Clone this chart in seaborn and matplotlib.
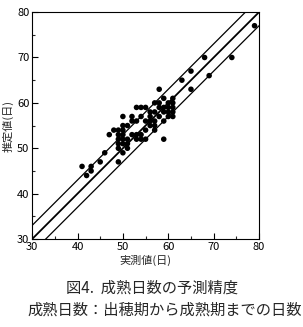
import matplotlib
matplotlib.use("Agg")
import matplotlib.pyplot as plt
import seaborn as sns
import pandas as pd
from matplotlib.ticker import MultipleLocator

# observed (x) and estimated (y) days
observed = [41, 42, 43, 43, 45, 46, 47, 48,
            49, 49, 49, 49, 49, 49,
            50, 50, 50, 50, 50, 50, 50,
            51, 51, 51, 51,
            52, 52, 52,
            53, 53, 53, 53,
            54, 54, 54, 54,
            55, 55, 55, 55,
            56, 56, 56, 56,
            57, 57, 57, 57, 57,
            58, 58, 58, 58,
            59, 59, 59, 59, 59,
            60, 60, 60, 60,
            61, 61, 61, 61, 61,
            63, 65, 65, 68, 69, 74, 79]
estimated = [46, 44, 46, 45, 47, 49, 53, 54,
             54, 53, 52, 51, 50, 47,
             57, 55, 54, 53, 52, 51, 49,
             55, 52, 51, 50,
             57, 56, 53,
             59, 56, 53, 52,
             59, 57, 53, 52,
             59, 56, 54, 52,
             58, 57, 56, 55,
             60, 58, 56, 55, 54,
             63, 60, 59, 57,
             61, 59, 58, 56, 52,
             60, 59, 58, 57,
             61, 60, 59, 58, 57,
             65, 67, 63, 70, 66, 70, 77]

line_x = [30, 80]
line_offsets = [0, 3, -3]
line_widths = [1.3, 0.9, 0.9]

x_ticks = [30, 40, 50, 60, 70, 80]
y_ticks = [30, 40, 50, 60, 70, 80]

sns.set_theme(style="white")
plt.rcParams['font.family'] = ['Noto Sans CJK JP', 'DejaVu Sans']

fig = plt.figure(figsize=(3.03, 3.27), dpi=100)
ax = fig.add_axes([0.106, 0.269, 0.749, 0.694])

df = pd.DataFrame({"obs": observed, "est": estimated})
for off, lw in zip(line_offsets, line_widths):
    ldf = pd.DataFrame({"x": line_x, "y": [v + off for v in line_x]})
    sns.lineplot(data=ldf, x="x", y="y", ax=ax, color="black", linewidth=lw)

sns.scatterplot(data=df, x="obs", y="est", ax=ax, color="black", s=16,
                edgecolor="none", zorder=3)

ax.set_xlim(30, 80)
ax.set_ylim(30, 80)
ax.set_xticks(x_ticks)
ax.set_yticks(y_ticks)
ax.xaxis.set_minor_locator(MultipleLocator(5))
ax.yaxis.set_minor_locator(MultipleLocator(5))
ax.tick_params(axis="both", which="major", direction="in", length=4, width=0.8,
               labelsize=8, colors="black", pad=2, bottom=True, left=True)
ax.tick_params(axis="both", which="minor", direction="in", length=2, width=0.8,
               bottom=True, left=True)
for sp in ax.spines.values():
    sp.set_color("black")
    sp.set_linewidth(0.8)

ax.set_xlabel("実測値(日)", fontsize=8, labelpad=2)
ax.set_ylabel("推定値(日)", fontsize=8, labelpad=2)

fig.text(0.5, 0.118, "図4.  成熟日数の予測精度", ha="center", va="center", fontsize=11)
fig.text(0.545, 0.05, "成熟日数：出穂期から成熟期までの日数", ha="center", va="center",
         fontsize=11)

fig.savefig("out.png", dpi=100)
